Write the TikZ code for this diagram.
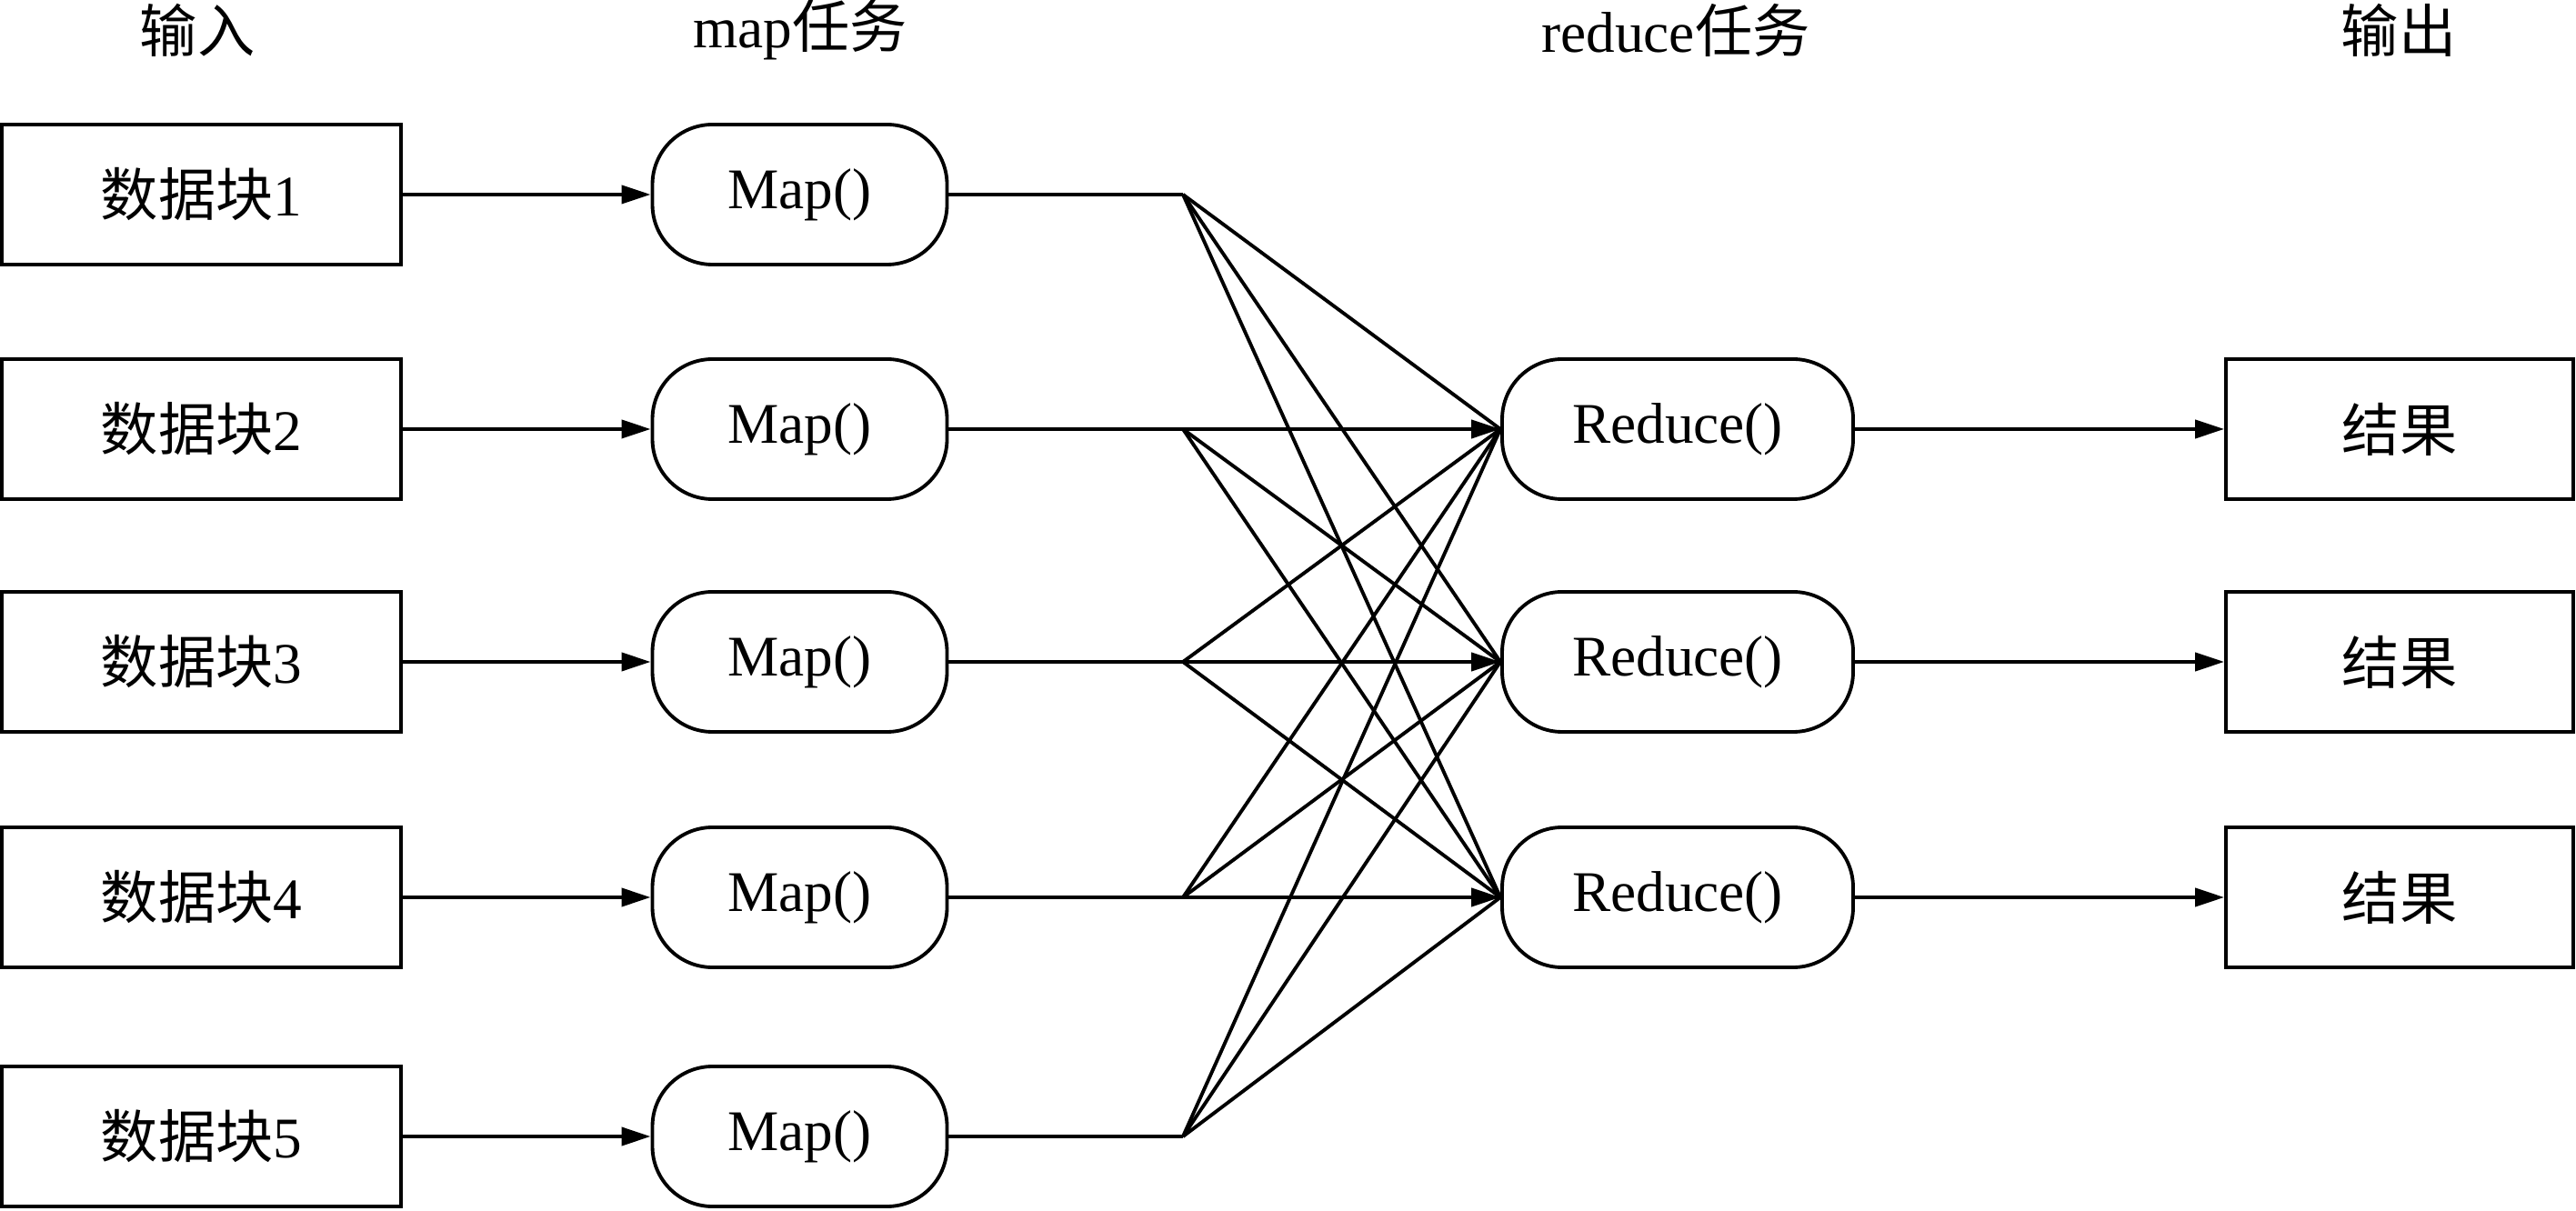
\documentclass[tikz,border=0pt]{standalone}
\usepackage{fontspec}
\setmainfont{Liberation Serif}
\newfontfamily\cjk{Noto Sans CJK SC}
\usetikzlibrary{arrows.meta}

\begin{document}
\begin{tikzpicture}
    \tikzset{blk/.style={draw,line width=1.1pt,minimum width=4.39cm,minimum
        height=1.54cm,font=\fontsize{18}{21}\selectfont},task/.style={blk,
        rounded corners=0.66cm,minimum width=3.24cm},hdr/.style={font=\fontsize{18}{21}\selectfont},
      link/.style={line width=1.1pt,>={Triangle[length=3.2mm,width=2mm]}}}
    \useasboundingbox (0,0) rectangle (28.33,-13.32);

    \node[hdr] (hin) at (2.17,-0.33) {\cjk 输入};
    \node[hdr] (hmap) at (8.80,-0.33) {map{\cjk 任务}};
    \node[hdr] (hred) at (18.43,-0.33) {reduce{\cjk 任务}};
    \node[hdr] (hout) at (26.38,-0.33) {\cjk 输出};

    \foreach \i/\y in {1/-2.14,2/-4.72,3/-7.28,4/-9.87,5/-12.50} {
      \node[blk] (d\i) at (2.215,\y) {{\cjk 数据块}\i};
      \node[task] (m\i) at (8.795,\y) {Map()};
      \coordinate (f\i) at (13.01,\y);
    }
    \foreach \j/\y in {1/-4.72,2/-7.28,3/-9.87} {
      \node[task,minimum width=3.86cm] (r\j) at (18.45,\y) {Reduce()};
      \node[blk,minimum width=3.82cm] (o\j) at (26.39,\y) {\cjk 结果};
      \draw[link,->] (r\j) -- (o\j);
    }

    \foreach \i in {1,...,5} {
      \draw[link,->] (d\i) -- (m\i);
      \draw[link] (m\i) -- (f\i);
      \foreach \j in {1,2,3} {\draw[link] (f\i) -- (r\j.west);}
    }
    \foreach \i/\j in {2/1,3/2,4/3} {\draw[link,->] (f\i) -- (r\j.west);}

  \end{tikzpicture}
\end{document}
